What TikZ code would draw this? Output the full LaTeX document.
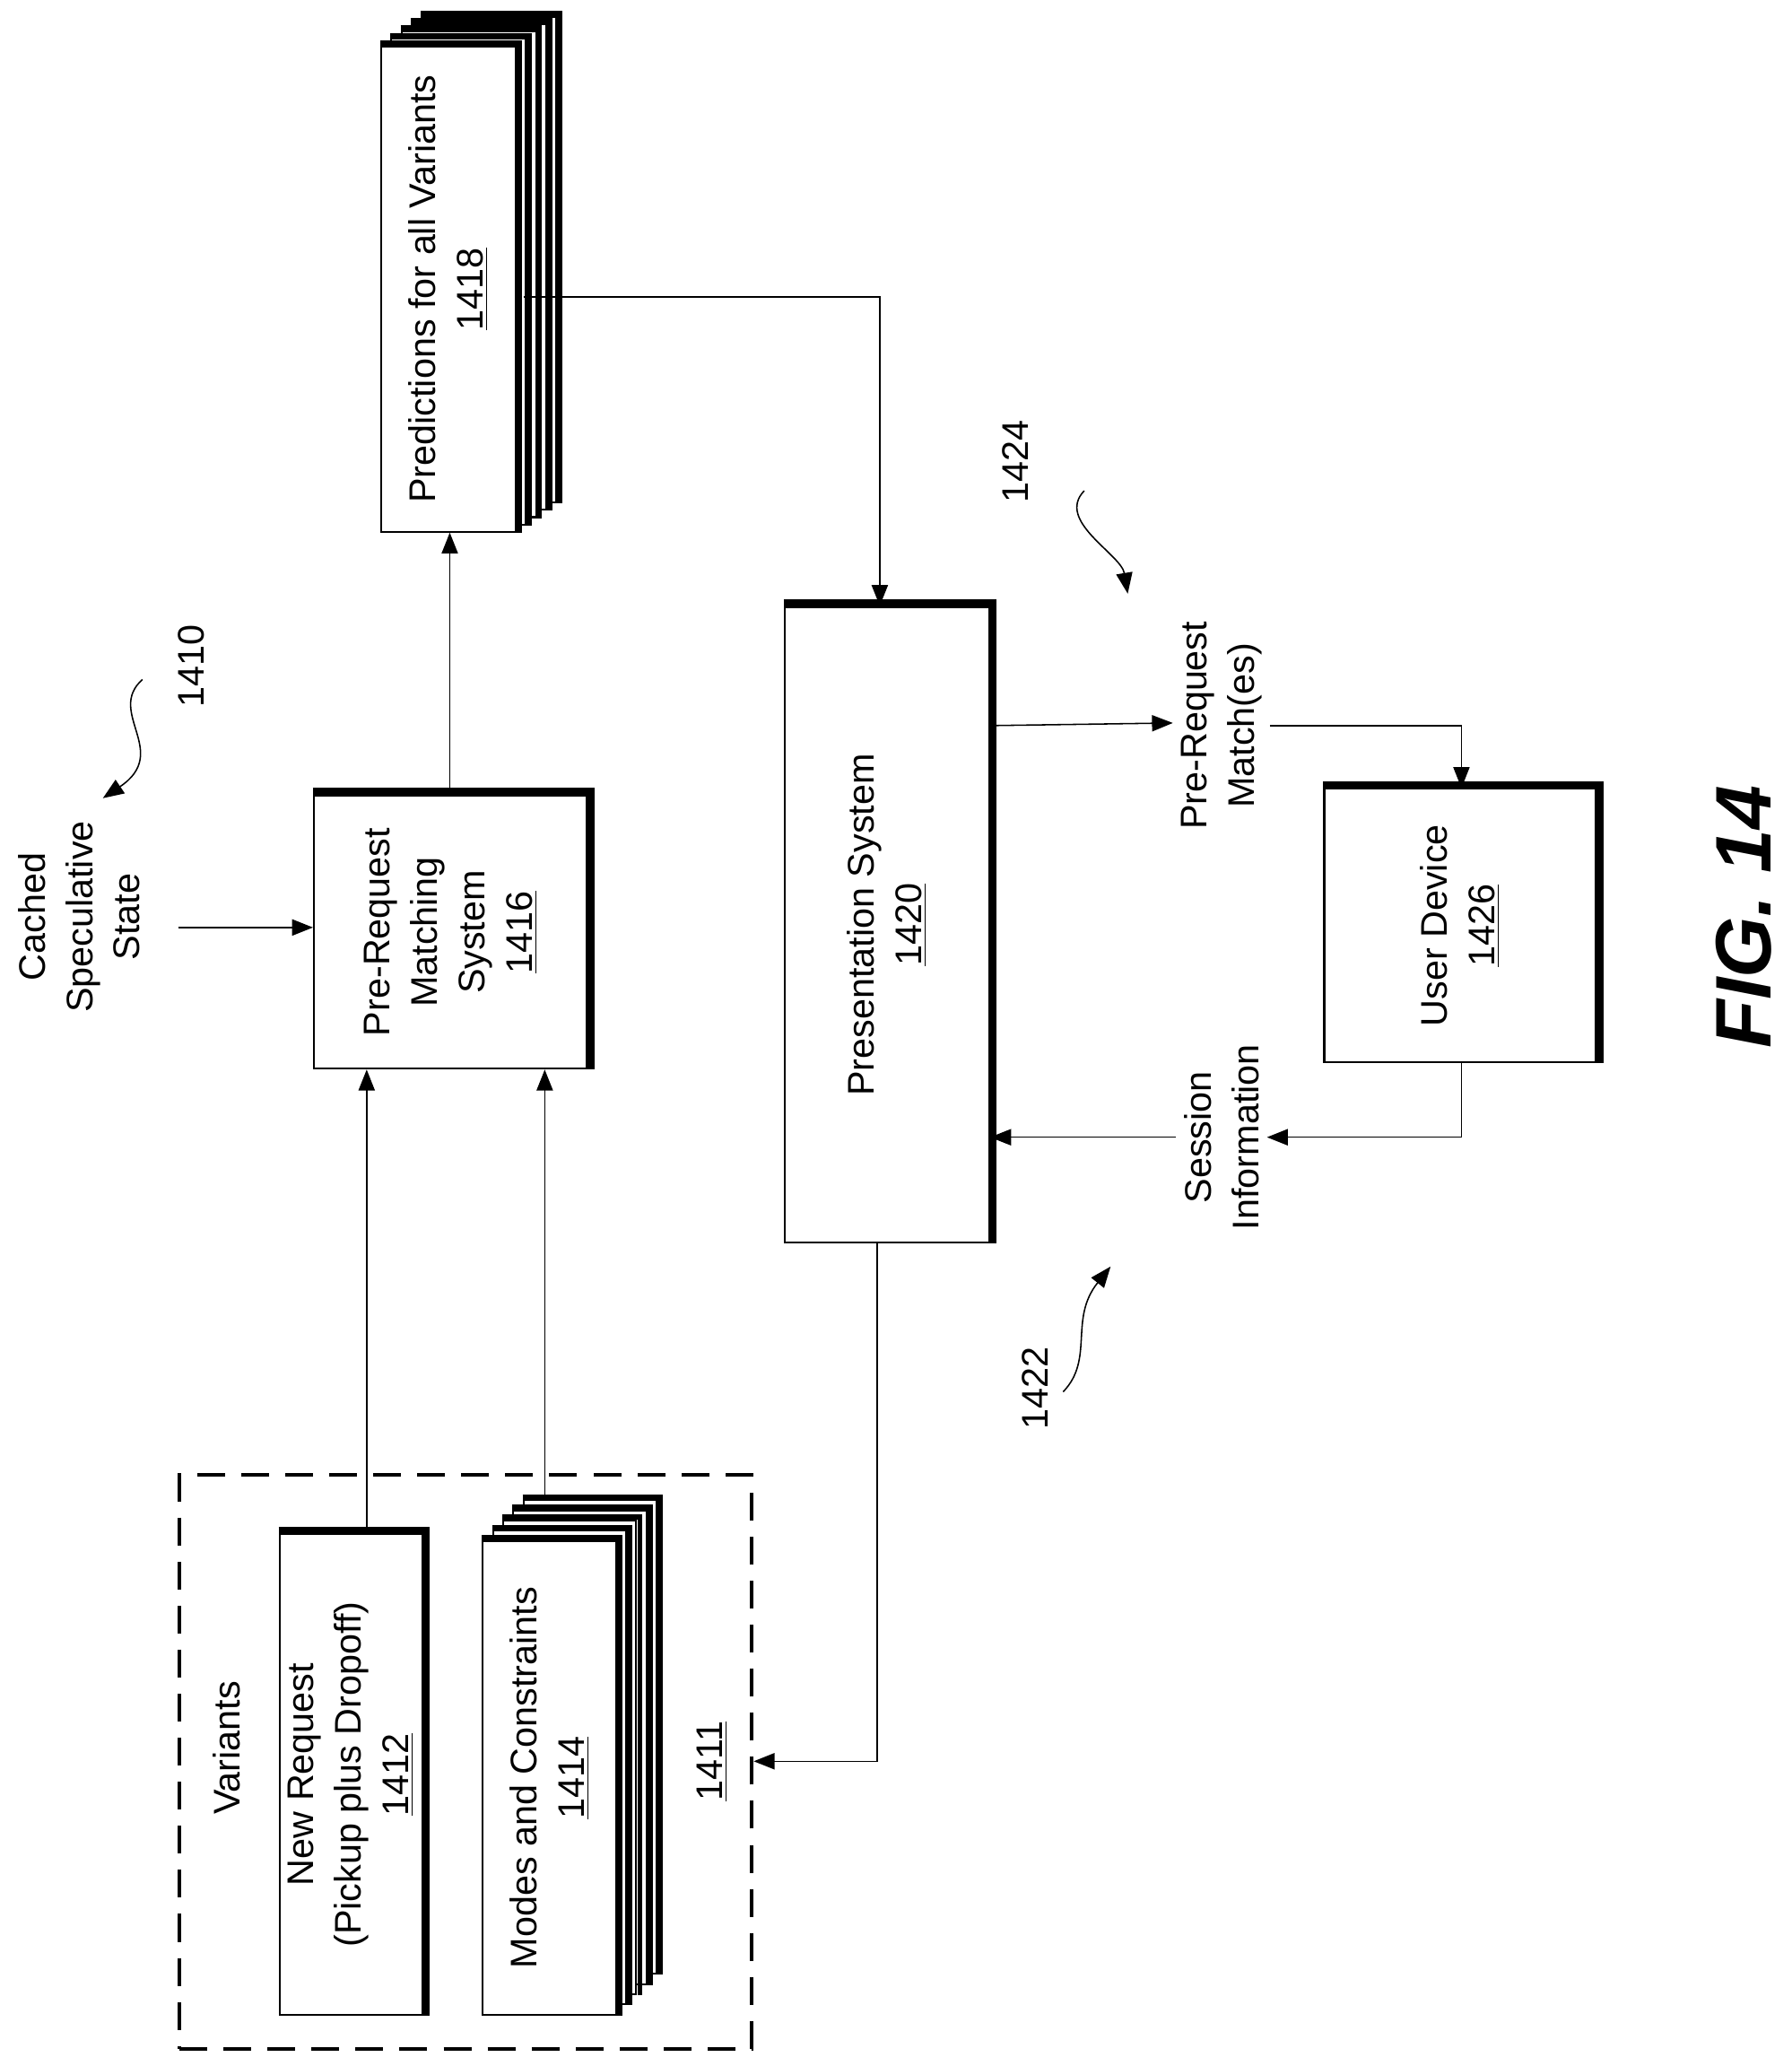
\documentclass[tikz,border=0pt]{standalone}
\usepackage{fontspec}
\setmainfont{Liberation Sans}
\usetikzlibrary{positioning, calc, fit, arrows.meta}
\tikzset{
  >={Triangle[length=9pt,width=7pt]},
  wire/.style={line width=0.6pt},
  box/.style={draw, fill=white, line width=0.8pt, inner sep=0pt},
  lab/.style={font=\fontsize{16}{20.5}\selectfont, align=center, rotate=90},
  refn/.style={font=\fontsize{16}{20}\selectfont, rotate=90},
}
\newcommand{\boxedge}[2][3.5pt]{\draw[line width=#1] ($(#2.north west)+(0,-2)$) -- ($(#2.north east)+(2,-2)$) -- ($(#2.south east)+(2,0)$);}
\newcommand{\ul}[1]{\underline{#1}}

\begin{document}
\begin{tikzpicture}[x=0.02cm, y=-0.02cm]
\useasboundingbox (0,0) rectangle (1358,1566);
% =========================================================
% (A) Predictions stack
% =========================================================
  \foreach \i in {4,3,2,1}{
    \node[box, fit={({289+7.7*\i},{35-5.5*\i}) ({391+7.7*\i},{403-5.5*\i})}] (pl\i) {};
    \boxedge[2.2pt]{pl\i}
  }
  \node[box, fit={(289,35) (391,403)}] (pred) {};
  \boxedge[2.2pt]{pred}
  \node[lab] at (pred.center) {Predictions for all Variants\\\ul{1418}};
% =========================================================
% (B) Matching system and inputs
% =========================================================
  \node[box, fit={(238,603) (445,810)}] (match) {};
  \boxedge{match}
  \node[lab] at (match.center) {Pre-Request\\Matching\\System\\\ul{1416}};
  \node[lab] (cached) at (60,695) {Cached\\Speculative\\State};
  \coordinate (cin) at (135,703);
% =========================================================
% (C) Variants
% =========================================================
  \node[draw, line width=1.6pt, dash pattern=on 12pt off 7pt, fit={(136,1118) (570,1553)}, inner sep=0pt] (var) {};
  \node[refn] at (172,1325) {Variants};
  \node[refn] at (540,1335) {\ul{1411}};
  \node[box, fit={(212,1163) (320,1527)}] (newreq) {};
  \boxedge{newreq}
  \node[lab] at (newreq.center) {New Request\\(Pickup plus Dropoff)\\\ul{1412}};
  \foreach \i in {4,3,2,1}{
    \node[box, fit={({366+7.7*\i},{1168-7.7*\i}) ({467+7.7*\i},{1527-7.7*\i})}] (ml\i) {};
    \boxedge[2.2pt]{ml\i}
  }
  \node[box, fit={(366,1168) (467,1527)}] (modes) {};
  \boxedge[2.2pt]{modes}
  \node[lab] at (modes.center) {Modes and Constraints\\\ul{1414}};
% =========================================================
% (D) Presentation and user device
% =========================================================
  \node[box, fit={(595,460) (750,942)}] (pres) {};
  \boxedge{pres}
  \node[lab] at (pres.center) {Presentation System\\\ul{1420}};
  \node[box, fit={(1004,598) (1210,805)}] (user) {};
  \boxedge{user}
  \node[lab] at (user.center) {User Device\\\ul{1426}};
  \node[lab] (prm) at (926,550) {Pre-Request\\Match(es)};
  \node[lab] (sess) at (926,862) {Session\\Information};
% =========================================================
% (E) Connectors
% =========================================================
  \draw[wire,->] (cin) -- (match.west |- cin);
  \draw[wire,->] (newreq.north -| 278,0) -- (match.south -| 278,0);
  \draw[wire,->] (ml4.north -| 413,0) -- (match.south -| 413,0);
  \draw[wire,->] (match.north -| 341,0) -- (pred.south -| 341,0);
  \draw[wire,->] (397,225) -| (pres.north -| 667,0);
  \draw[wire,->] (pres.east |- 0,550) -- (prm.north west |- 0,548);
  \draw[wire,->] (prm.south east |- 0,550) -| (user.north -| 1108,0);
  \draw[wire,->] (user.south -| 1108,0) |- (sess.south east |- 0,862);
  \draw[wire,->] (sess.north west |- 0,862) -- (pres.east |- 0,862);
  \draw[wire,->] (pres.south -| 665,0) |- (var.east |- 0,1335);
% =========================================================
% (F) Reference numerals
% =========================================================
  \node[refn] at (145,505) {1410};
  \draw[wire,->] (108,515) .. controls (80,540) and (130,570) .. (78,605);
  \node[refn] at (770,350) {1424};
  \draw[wire,->] (822,372) .. controls (800,395) and (850,420) .. (855,450);
  \node[refn] at (785,1052) {1422};
  \draw[wire,->] (806,1055) .. controls (830,1030) and (810,1000) .. (842,960);
  \node[font=\fontsize{34}{38}\selectfont\bfseries\itshape, rotate=90] at (1322,695) {FIG. 14};
\end{tikzpicture}
\end{document}
